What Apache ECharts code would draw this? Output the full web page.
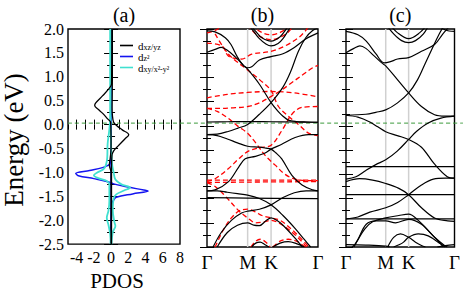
<!DOCTYPE html>
<html><head><meta charset="utf-8">
<script src="https://cdn.jsdelivr.net/npm/echarts@6/dist/echarts.min.js"></script>
<style>html,body{margin:0;padding:0;background:#fff}#c{width:463px;height:296px}</style>
</head><body><div id="c"></div><script>
// ---------- data ----------
const eMin = -2.5, eMax = 2.0, eStep = 0.5;
const pdosMin = -5, pdosMax = 8, pdosStep = 1;
const kM = 1.0, kK = 1.577, kEnd = 2.732;
const kTicks = [0, kM, kK, kEnd];
const kLabels = ['Γ', 'M', 'K', 'Γ'];
const panelTitles = ['(a)', '(b)', '(c)'];
const pdosNames = ['dxz', 'dz2', 'dxy'];
const fermi = [[0, 0], [1, 0]];

// PDOS [value, energy]
const dxzUp = [[0.15,2.0],[0.15,1.0],[0.12,0.35],[0.15,0.2],[0.3,0.05],[0.7,-0.03],[1.3,-0.11],[2.05,-0.21],[1.6,-0.3],[0.8,-0.45],[0.3,-0.55],[0.1,-0.65],[0.05,-1.0],[0.05,-2.5]];
const dxzDn = [[0.1,2.0],[0.05,0.85],[-0.3,0.74],[-1.0,0.6],[-1.8,0.45],[-1.9,0.4],[-1.5,0.32],[-1.0,0.24],[-0.4,0.12],[-0.05,0.05],[0,-0.5],[-0.1,-0.7],[-0.2,-0.85],[0,-1.0],[0,-2.5]];
const dz2Up = [[0,2.0],[0,-1.2],[0.3,-1.24],[1.8,-1.3],[3.8,-1.37],[4.3,-1.39],[2.5,-1.45],[0.6,-1.52],[0.3,-1.58],[0.1,-1.65],[0,-2.5]];
const dz2Dn = [[0,2.0],[0,-0.6],[-0.1,-0.8],[-0.3,-0.85],[-1.0,-0.9],[-2.5,-0.96],[-4.1,-1.02],[-3.8,-1.07],[-2.0,-1.13],[-0.5,-1.19],[0,-1.24],[0,-2.5]];
const dxyUp = [[-0.05,2.0],[-0.05,0.0],[0.1,-0.8],[0.3,-1.0],[0.5,-1.15],[1.2,-1.25],[2.2,-1.32],[1.5,-1.38],[0.6,-1.46],[0.3,-1.55],[0.2,-1.8],[0.4,-2.05],[0.5,-2.12],[0.2,-2.25],[0.05,-2.5]];
const dxyDn = [[-0.1,2.0],[-0.1,0.2],[-0.2,-0.1],[-0.4,-0.4],[-0.45,-0.7],[-0.8,-0.92],[-1.6,-1.0],[-2.0,-1.06],[-1.5,-1.12],[-0.5,-1.18],[-0.2,-1.25],[-0.2,-1.6],[-0.3,-1.8],[-0.5,-1.95],[-0.3,-2.1],[-0.1,-2.3],[-0.05,-2.5]];

// Panel (b) black bands [k, energy]
const b1 = [[0,1.96],[0.2,1.94],[0.45,1.82],[0.59,1.68],[0.75,1.42],[0.9,1.24],[1.0,1.2],[1.1,1.22],[1.29,1.36],[1.577,1.43],[1.87,1.49],[2.15,1.62],[2.44,1.8],[2.732,1.92]];
const b2 = [[0,1.52],[0.2,1.58],[0.35,1.62],[0.5,1.56],[0.7,1.42],[0.9,1.25],[1.0,1.17],[1.29,0.86],[1.577,0.48],[1.75,0.3],[1.87,0.2],[2.0,0.12],[2.2,0.09],[2.44,0.08],[2.732,0.075]];
const b3 = [[0,-0.18],[0.25,-0.17],[0.5,-0.12],[0.75,-0.05],[1.0,0.03],[1.29,0.24],[1.577,0.48],[1.87,0.8],[2.05,1.1],[2.25,1.54],[2.43,1.82],[2.6,1.97],[2.732,2.02]];
const b4 = [[0,0.08],[0.5,0.085],[1.0,0.09],[1.577,0.085],[2.15,0.08],[2.732,0.075]];
const b5 = [[1.0,2.1],[1.15,1.95],[1.29,1.8],[1.45,1.69],[1.577,1.65],[1.75,1.7],[1.87,1.8],[2.0,1.97],[2.1,2.1]];
const b6 = [[1.05,2.1],[1.2,1.95],[1.35,1.82],[1.577,1.75],[1.8,1.84],[1.95,2.0],[2.05,2.1]];
const b7 = [[0,-0.18],[0.25,-0.2],[0.5,-0.27],[0.75,-0.35],[1.0,-0.42],[1.29,-0.44],[1.45,-0.46],[1.577,-0.48],[1.7,-0.56],[1.84,-0.68],[2.09,-1.02],[2.34,-1.22],[2.6,-1.32],[2.732,-1.34]];
const b8 = [[0,-1.34],[0.2,-1.32],[0.53,-1.15],[0.78,-0.85],[0.94,-0.68],[1.19,-0.63],[1.43,-0.56],[1.577,-0.48],[1.84,-0.38],[2.17,-0.24],[2.5,-0.18],[2.732,-0.18]];
const b9 = [[0,-1.48],[1.0,-1.49],[2.732,-1.5]];
const b10 = [[0,-1.34],[0.25,-1.34],[0.5,-1.37],[0.75,-1.4],[1.0,-1.43],[1.29,-1.5],[1.577,-1.63],[1.87,-1.85],[2.15,-2.1],[2.4,-2.35],[2.55,-2.5]];
const b11 = [[0.15,-2.5],[0.35,-2.2],[0.6,-1.95],[0.85,-1.8],[1.0,-1.76],[1.29,-1.72],[1.577,-1.63],[1.87,-1.48],[2.15,-1.38],[2.44,-1.34],[2.732,-1.34]];
const b12 = [[0.25,-2.5],[0.5,-2.2],[0.75,-2.05],[1.0,-2.0],[1.15,-2.05],[1.29,-2.06],[1.45,-1.96],[1.577,-1.9],[1.75,-1.97],[1.87,-2.05],[2.15,-2.3],[2.35,-2.5]];
const b13 = [[1.1,-2.5],[1.2,-2.42],[1.31,-2.4],[1.42,-2.45],[1.52,-2.5]];
const b14 = [[1.62,-2.5],[1.8,-2.42],[2.0,-2.39],[2.2,-2.43],[2.4,-2.5]];
const blackB = [b1,b2,b3,b4,b5,b6,b7,b8,b9,b10,b11,b12,b13,b14];

// Panel (b) red dashed bands
const r1 = [[0,0.58],[0.5,0.65],[1.0,0.69],[1.577,0.71],[2.15,0.68],[2.732,0.6]];
const r2 = [[0,0.36],[0.25,0.3],[0.5,0.17],[0.75,0.0],[1.0,-0.15],[1.19,-0.34],[1.43,-0.61],[1.68,-0.81],[1.92,-1.0],[2.17,-1.1],[2.45,-1.13],[2.732,-1.13]];
const r3 = [[0,-1.15],[0.2,-1.09],[0.53,-0.88],[0.78,-0.68],[1.02,-0.52],[1.3,-0.45],[1.577,-0.4],[1.84,-0.1],[2.09,0.24],[2.33,0.38],[2.732,0.4]];
const r4 = [[0,-1.12],[1.0,-1.12],[2.732,-1.12]];
const r5 = [[0,-1.17],[1.0,-1.16],[2.732,-1.15]];
const r6 = [[0.2,1.9],[0.53,1.48],[1.02,1.14],[1.3,0.95],[1.577,0.73],[1.76,0.4],[2.0,0.2],[2.25,0.03],[2.5,-0.15],[2.732,-0.2]];
const r7 = [[0,0.36],[0.3,0.36],[0.6,0.37],[1.0,0.4],[1.3,0.48],[1.56,0.6],[1.8,0.72],[2.05,0.87],[2.38,1.07],[2.6,1.2],[2.732,1.25]];
const r8 = [[0,1.71],[0.37,1.65],[0.53,1.44],[0.86,1.38],[1.1,1.48],[1.577,1.54],[1.92,1.65],[2.25,1.82],[2.41,1.95],[2.5,2.05]];
const r9 = [[1.0,2.1],[1.2,1.9],[1.577,1.78],[1.95,1.9],[2.15,2.1]];
const r10 = [[1.1,2.1],[1.3,1.95],[1.577,1.88],[1.85,1.95],[2.05,2.1]];
const r11 = [[0,1.92],[0.2,1.97],[0.35,2.05]];
const r12 = [[0.2,-2.5],[0.4,-2.15],[0.6,-1.9],[0.8,-1.75],[1.0,-1.72],[1.2,-1.78],[1.35,-1.85],[1.577,-1.9],[1.8,-1.95],[2.1,-2.15],[2.4,-2.4],[2.5,-2.5]];
const r13 = [[0,-1.17],[0.2,-1.25],[0.45,-1.45],[0.78,-1.75],[1.0,-1.9],[1.2,-2.0],[1.4,-1.98],[1.577,-1.95],[1.8,-2.02],[2.1,-2.2],[2.35,-2.4],[2.45,-2.5]];
const r14 = [[1.08,-2.5],[1.2,-2.38],[1.31,-2.34],[1.45,-2.4],[1.55,-2.5]];
const r15 = [[1.62,-2.5],[1.8,-2.38],[2.0,-2.34],[2.2,-2.38],[2.42,-2.5]];
const redB = [r1,r2,r3,r4,r5,r6,r7,r8,r9,r10,r11,r12,r13,r14,r15];

// Panel (c) black bands
const c1 = [[0,1.51],[0.2,1.6],[0.35,1.65],[0.5,1.6],[0.7,1.45],[0.9,1.3],[1.0,1.24],[1.29,0.96],[1.577,0.68],[1.9,0.4],[2.23,0.23],[2.5,0.2],[2.732,0.2]];
const c2 = [[0,1.95],[0.3,1.88],[0.51,1.75],[0.76,1.48],[0.96,1.3],[1.1,1.32],[1.3,1.38],[1.577,1.41],[1.9,1.54],[2.23,1.68],[2.44,1.9],[2.6,2.05]];
const c3 = [[0,0.22],[0.5,0.24],[0.75,0.28],[1.0,0.33],[1.29,0.47],[1.577,0.68],[1.8,0.95],[2.0,1.3],[2.2,1.65],[2.35,1.9],[2.45,2.05]];
const c4 = [[1.0,2.1],[1.2,1.9],[1.4,1.76],[1.577,1.72],[1.75,1.76],[1.95,1.9],[2.1,2.1]];
const c5 = [[1.1,2.1],[1.3,1.92],[1.577,1.8],[1.85,1.92],[2.05,2.1]];
const c6 = [[2.3,2.1],[2.5,1.98],[2.732,1.95]];
const c7 = [[0,0.22],[0.3,0.18],[0.6,0.08],[0.8,-0.02],[1.0,-0.12],[1.29,-0.2],[1.577,-0.28],[1.9,-0.44],[2.22,-0.78],[2.55,-1.05],[2.732,-1.08]];
const c8 = [[0,-1.1],[0.25,-1.05],[0.5,-0.92],[0.75,-0.8],[1.0,-0.7],[1.29,-0.52],[1.577,-0.28],[1.78,-0.11],[2.07,0.06],[2.39,0.16],[2.732,0.2]];
const c9 = [[0,-0.84],[2.732,-0.84]];
const c10 = [[0,-1.42],[2.732,-1.42]];
const c11 = [[0,-1.92],[2.732,-1.92]];
const c12 = [[0,-1.15],[0.34,-1.09],[0.67,-1.12],[1.0,-1.19],[1.33,-1.29],[1.577,-1.42],[1.9,-1.69],[2.23,-1.9],[2.56,-1.96],[2.732,-1.97]];
const c13 = [[0,-1.92],[0.3,-1.88],[0.6,-1.78],[1.0,-1.69],[1.3,-1.58],[1.577,-1.42],[1.9,-1.22],[2.2,-1.1],[2.5,-1.08],[2.732,-1.08]];
const c14 = [[0.2,-2.5],[0.3,-2.35],[0.51,-2.03],[0.76,-1.96],[1.0,-1.96],[1.25,-2.0],[1.577,-1.93],[1.9,-2.03],[2.23,-2.3],[2.48,-2.47],[2.55,-2.5]];
const c15 = [[0.15,-2.5],[0.22,-2.45],[0.47,-2.13],[0.67,-1.98],[1.0,-1.9],[1.33,-1.85],[1.577,-1.82],[1.82,-1.95],[2.15,-2.23],[2.39,-2.44],[2.45,-2.5]];
const c16 = [[1.05,-2.5],[1.2,-2.3],[1.37,-2.23],[1.577,-2.3],[1.75,-2.4],[1.9,-2.47],[2.0,-2.5]];
const c17 = [[1.2,-2.5],[1.35,-2.45],[1.45,-2.4],[1.577,-2.3],[1.82,-2.23],[2.07,-2.27],[2.39,-2.44],[2.5,-2.5]];
const c18 = [[0,-2.45],[0.5,-2.46],[1.0,-2.48],[1.1,-2.5]];
const c19 = [[2.3,-2.5],[2.5,-2.47],[2.732,-2.45]];
const blackC = [c1,c2,c3,c4,c5,c6,c7,c8,c9,c10,c11,c12,c13,c14,c15,c16,c17,c18,c19];

// ---------- chart ----------
const FONT = 'Liberation Serif';
const grids = [
  {left: 68, top: 24, width: 112, height: 223},
  {left: 207, top: 24, width: 111, height: 223},
  {left: 346, top: 24, width: 111, height: 223},
  {left: 68, top: 24, width: 395, height: 223}
];
const gridOpt = grids.map((g, i) => Object.assign({show: i < 3, borderColor: '#000', borderWidth: 1.4, backgroundColor: 'transparent'}, g));

function yAx(gi, pos, label) {
  return {type: 'value', gridIndex: gi, position: pos, min: eMin, max: eMax, interval: eStep,
    axisLine: {show: false}, splitLine: {show: false},
    axisTick: {show: true, inside: true, length: 7, lineStyle: {color: '#000', width: 1}},
    minorTick: {show: true, splitNumber: 2, length: 4, lineStyle: {color: '#000', width: 1}},
    axisLabel: {show: label, fontFamily: FONT, fontSize: 16, color: '#000', margin: 4, formatter: v => v.toFixed(1)}};
}
function kAx(gi, pos, title) {
  const o = {type: 'value', gridIndex: gi, position: pos, min: 0, max: kEnd,
    axisLine: {show: false}, splitLine: {show: false}, axisTick: {show: false}};
  if (pos === 'bottom') {
    o.axisLabel = {show: true, customValues: kTicks, fontFamily: FONT, fontSize: 19, color: '#000', margin: 6,
      formatter: v => kLabels[kTicks.findIndex(t => Math.abs(t - v) < 1e-6)] || ''};
  } else {
    o.axisLabel = {show: false};
    o.name = title; o.nameLocation = 'middle'; o.nameGap = 4;
    o.nameTextStyle = {fontFamily: FONT, fontSize: 20, color: '#000'};
  }
  return o;
}
function pAx(pos, title) {
  const o = {type: 'value', gridIndex: 0, position: pos, min: pdosMin, max: pdosMax, interval: pdosStep,
    axisLine: {show: false}, splitLine: {show: false},
    axisTick: {show: true, inside: true, length: 5, lineStyle: {color: '#000', width: 1}}};
  if (pos === 'bottom') {
    o.axisLabel = {show: true, fontFamily: FONT, fontSize: 16, color: '#000', margin: 5,
      showMinLabel: false, formatter: v => (Math.round(v) % 2 === 0 ? String(Math.round(v)) : '')};
    o.name = 'PDOS'; o.nameLocation = 'middle'; o.nameGap = 22;
    o.nameTextStyle = {fontFamily: FONT, fontSize: 21, color: '#000', padding: [0, 14, 0, 0]};
  } else {
    o.axisLabel = {show: false};
    o.name = title; o.nameLocation = 'middle'; o.nameGap = 4;
    o.nameTextStyle = {fontFamily: FONT, fontSize: 20, color: '#000'};
  }
  return o;
}

const xAxes = [pAx('bottom'), pAx('top', panelTitles[0]), kAx(1, 'bottom'), kAx(1, 'top', panelTitles[1]),
  kAx(2, 'bottom'), kAx(2, 'top', panelTitles[2]),
  {type: 'value', gridIndex: 3, min: 0, max: 1, show: false}];
const yAxes = [yAx(0, 'left', true), yAx(0, 'right', false), yAx(1, 'left', false), yAx(1, 'right', false),
  yAx(2, 'left', false), yAx(2, 'right', false),
  {type: 'value', gridIndex: 3, min: eMin, max: eMax, show: false}];

const series = [];
function line(data, xi, yi, color, width, type, z, name) {
  series.push({type: 'line', name: name, xAxisIndex: xi, yAxisIndex: yi, data: data, showSymbol: false, symbol: 'none',
    smooth: 0.35, clip: true, silent: true, animation: false, z: z,
    lineStyle: {color: color, width: width, type: type}, itemStyle: {color: color}});
}
// high-symmetry guide lines in panels b and c
[[2, 2], [4, 4]].forEach(([xi, yi]) => {
  [kM, kK].forEach(k => line([[k, eMin], [k, eMax]], xi, yi, '#d0d0d0', 1.5, 'solid', 1));
});
// Fermi level across all panels
line(fermi, 6, 6, '#3c9a3c', 1, [4, 3], 3);
// PDOS
const cBlack = '#000000', cBlue = '#1414f0', cCyan = '#40e0d0';
line(dz2Up, 0, 0, cBlue, 1.5, 'solid', 4, pdosNames[1]);
line(dz2Dn, 0, 0, cBlue, 1.5, 'solid', 4, pdosNames[1]);
line(dxyUp, 0, 0, cCyan, 1.8, 'solid', 5, pdosNames[2]);
line(dxyDn, 0, 0, cCyan, 1.8, 'solid', 5, pdosNames[2]);
line(dxzUp, 0, 0, cBlack, 1.3, 'solid', 6, pdosNames[0]);
line(dxzDn, 0, 0, cBlack, 1.3, 'solid', 6, pdosNames[0]);
// bands
redB.forEach(d => line(d, 2, 2, '#ff0000', 1.3, [5, 3], 4));
blackB.forEach(d => line(d, 2, 2, '#000', 1.2, 'solid', 5));
blackC.forEach(d => line(d, 4, 4, '#000', 1.2, 'solid', 5));

const legendText = {dxz: '{d|d}{s|xz/yz}', dz2: '{d|d}{s|z²}', dxy: '{d|d}{s|xy/x²-y²}'};
const option = {
  animation: false,
  grid: gridOpt,
  xAxis: xAxes,
  yAxis: yAxes,
  legend: {data: pdosNames, orient: 'vertical', left: 115, top: 35, itemWidth: 13, itemHeight: 11, itemGap: 0,
    icon: 'path://M0,5 L13,5 L13,6.6 L0,6.6 Z',
    formatter: n => legendText[n],
    textStyle: {fontFamily: FONT, color: '#000', rich: {
      d: {fontFamily: FONT, fontSize: 11, lineHeight: 11, color: '#000'},
      s: {fontFamily: FONT, fontSize: 8, lineHeight: 7, color: '#000', verticalAlign: 'bottom'}}}},
  graphic: [{type: 'text', x: 14, y: 140, rotation: Math.PI / 2,
    style: {text: 'Energy (eV)', font: '27px "Liberation Serif"', fill: '#000', textAlign: 'center', textVerticalAlign: 'middle'}}],
  series: series
};
const chart = echarts.init(document.getElementById('c'), null, {renderer: 'svg'});
chart.setOption(option);
</script></body></html>
